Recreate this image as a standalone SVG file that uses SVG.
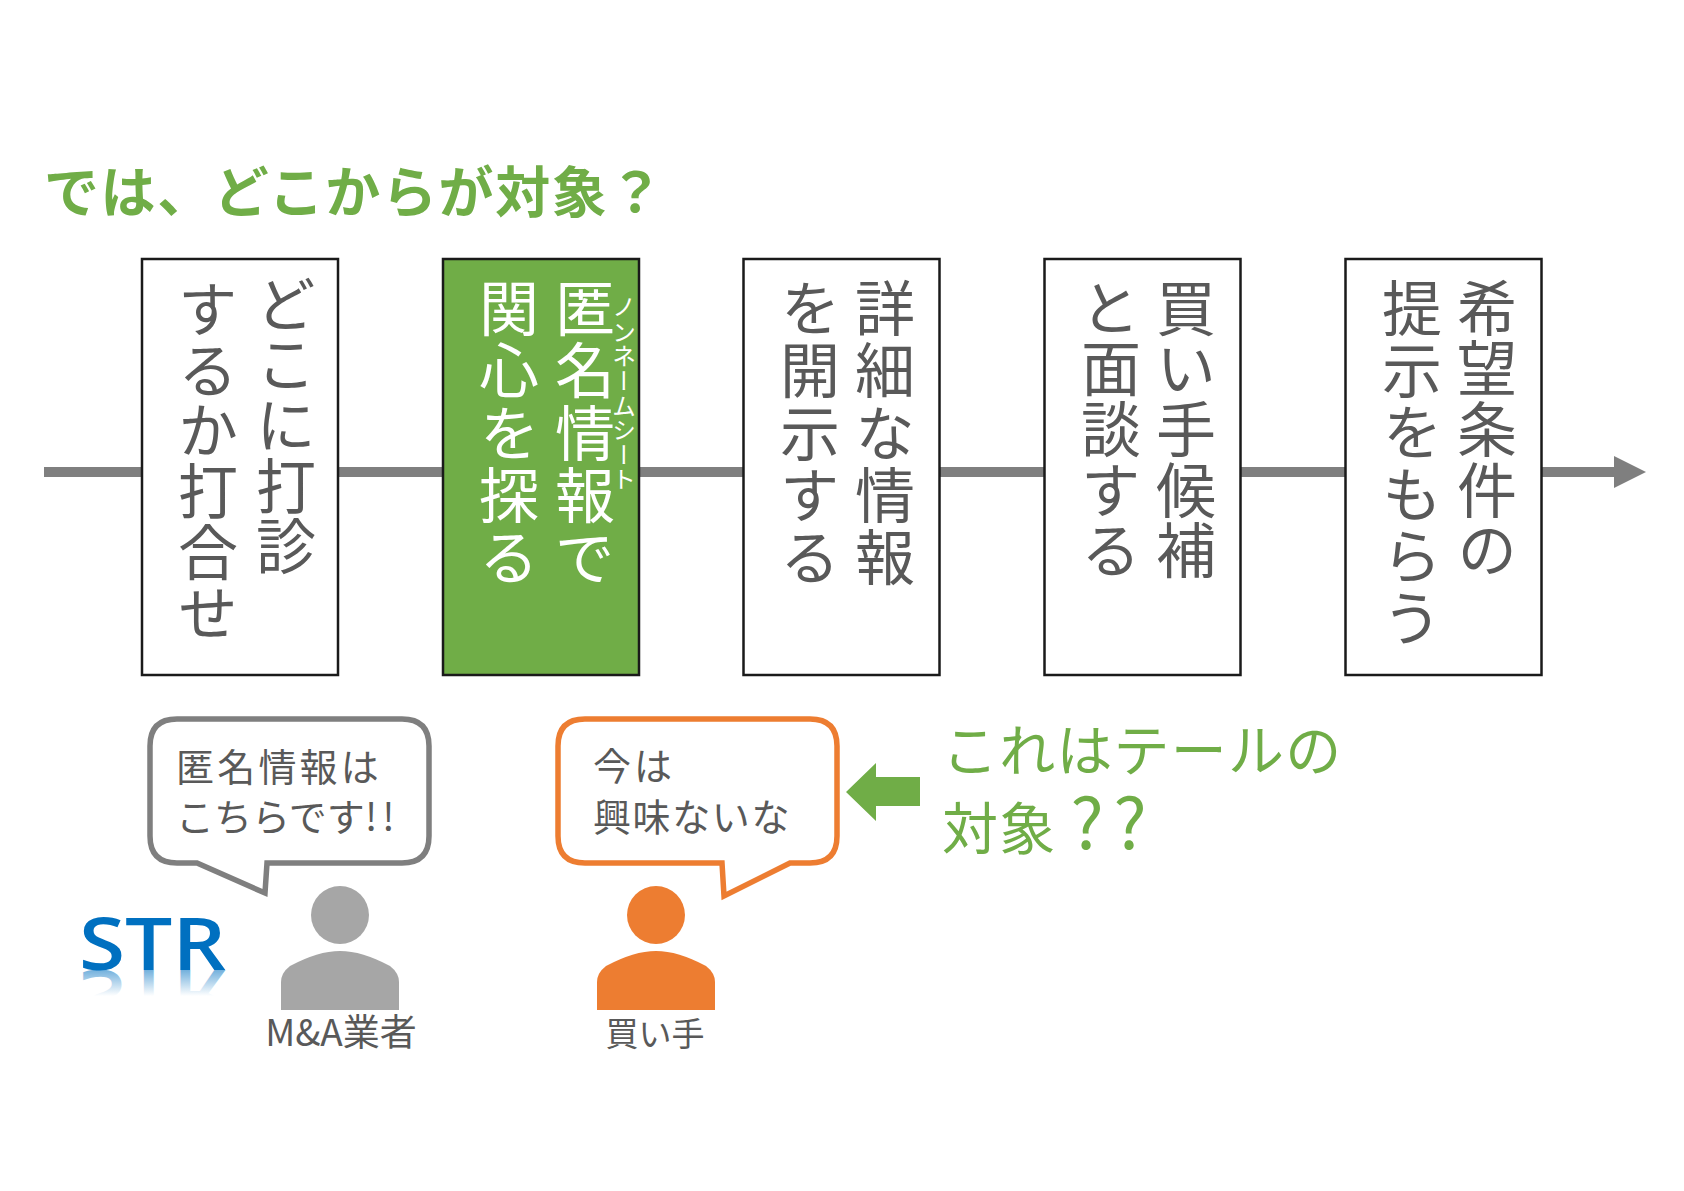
<svg xmlns="http://www.w3.org/2000/svg" width="1684" height="1191" viewBox="0 0 1684 1191" xml:lang="ja" lang="ja">
<style>
text{font-family:"Noto Sans CJK JP","Noto Sans",sans-serif;fill:#595959}
.v{writing-mode:vertical-rl;font-size:60px;letter-spacing:2.4px}
.t{letter-spacing:.6px}
.w{fill:#fff}
.box{fill:#fff;stroke:#1a1a1a;stroke-width:2.5}
.g{fill:#70AD47}
.bt{font-size:38px}
.lb{font-size:32px;text-anchor:middle}
.gt{font-size:56px;fill:#70AD47;letter-spacing:1.2px}
.bub{fill:#fff;stroke-width:5.5;stroke-linejoin:miter}
.str{font-family:"Open Sans","Noto Sans",sans-serif;font-size:72px;font-weight:600}
</style>
<defs>
<linearGradient id="fade2" gradientUnits="userSpaceOnUse" x1="0" y1="970" x2="0" y2="944">
<stop offset="0" stop-color="#0070C0" stop-opacity=".55"/><stop offset="1" stop-color="#0070C0" stop-opacity="0"/>
</linearGradient>
</defs>
<g id="connectors">
<path d="M44 472H1616" stroke="#7f7f7f" stroke-width="10" fill="none"/>
<path d="M1614 456L1646 472L1614 488Z" fill="#7f7f7f"/>
</g>
<text id="title" x="44" y="212" font-size="55" font-weight="700" letter-spacing="1.6" style="fill:#70AD47">では、どこからが対象？</text>
<g id="step1">
<rect class="box" x="142" y="259" width="196" height="416"/>
<text class="v t" x="286" y="274">どこに打診</text>
<text class="v t" x="208" y="279" style="letter-spacing:.8px">するか打合せ</text>
</g>
<g id="step2">
<rect x="443" y="259" width="196" height="416" fill="#70AD47" stroke="#1a1a1a" stroke-width="2.5"/>
<text class="v w" x="585" y="278">匿名情報で</text>
<text class="v w" x="509" y="278">関心を探る</text>
<text class="w" x="624" y="295" style="writing-mode:vertical-rl;font-size:24px;letter-spacing:.6px">ノンネームシート</text>
</g>
<g id="step3">
<rect class="box" x="743.5" y="259" width="196" height="416"/>
<text class="v" x="885" y="278">詳細な情報</text>
<text class="v" x="810" y="278">を開示する</text>
</g>
<g id="step4">
<rect class="box" x="1044.5" y="259" width="196" height="416"/>
<text class="v" x="1186" y="278" style="letter-spacing:.6px">買い手候補</text>
<text class="v" x="1111" y="278" style="letter-spacing:.6px">と面談する</text>
</g>
<g id="step5">
<rect class="box" x="1345.5" y="259" width="196" height="416"/>
<text class="v" x="1487" y="278" style="letter-spacing:.6px">希望条件の</text>
<text class="v" x="1412" y="278" style="letter-spacing:2px">提示をもらう</text>
</g>
<g id="bubble-agent">
<path class="bub" stroke="#7f7f7f" d="M177 719H402Q429 719 429 746V836Q429 863 402 863H267L265 893L197 863H177Q150 863 150 836V746Q150 719 177 719Z"/>
<text class="bt" x="176" y="781" letter-spacing="3.2">匿名情報は</text>
<text class="bt" x="176" y="831">こちらです<tspan letter-spacing="5">!!</tspan></text>
</g>
<g id="bubble-buyer">
<path class="bub" stroke="#ED7D31" d="M585 719H810Q837 719 837 746V836Q837 863 810 863H790L724 896L722 863H585Q558 863 558 836V746Q558 719 585 719Z"/>
<text class="bt" x="593" y="780" letter-spacing="3">今は</text>
<text class="bt" x="593" y="831" letter-spacing="1.6">興味ないな</text>
</g>
<g id="person-agent">
<circle cx="340" cy="915" r="29" fill="#a6a6a6"/>
<path d="M281 1010V982Q281 973 290 966Q318 951 340 951Q362 951 390 966Q399 973 399 982V1010Z" fill="#a6a6a6"/>
<text class="lb" x="341" y="1046" style="font-size:37px">M&amp;A業者</text>
</g>
<g id="person-buyer">
<circle cx="656" cy="915" r="29" fill="#ED7D31"/>
<path d="M597 1010V982Q597 973 606 966Q634 951 656 951Q678 951 706 966Q715 973 715 982V1010Z" fill="#ED7D31"/>
<text class="lb" x="655" y="1046" style="font-size:33px">買い手</text>
</g>
<g id="str-logo">
<text class="str" x="79" y="970" textLength="147" lengthAdjust="spacingAndGlyphs" style="fill:#0070C0">STR</text>
<g transform="translate(0 1940) scale(1 -1)"><text class="str" x="79" y="970" textLength="147" lengthAdjust="spacingAndGlyphs" style="fill:url(#fade2)">STR</text></g>
</g>
<g id="note">
<path class="g" d="M846 792L876 763V777H920V806H876V821Z"/>
<text class="gt" x="942" y="771">これはテールの</text>
<text class="gt" x="942" y="849">対象<tspan font-size="70" letter-spacing="10" dx="14">??</tspan></text>
</g>
</svg>
